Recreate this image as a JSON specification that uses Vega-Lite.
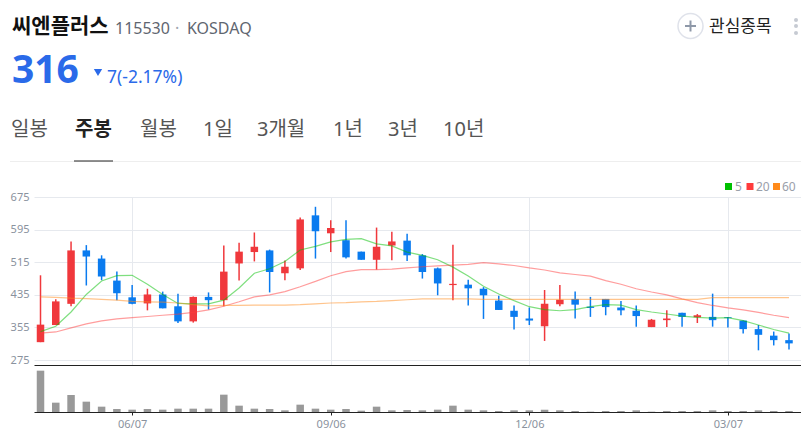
{
  "$schema": "https://vega.github.io/schema/vega-lite/v6.json",
  "padding": 0,
  "background": "white",
  "spacing": 0,
  "bounds": "flush",
  "config": {
    "view": {"stroke": null},
    "font": "Noto Sans, Noto Sans CJK KR",
    "text": {"baseline": "alphabetic", "align": "left"}
  },
  "datasets": {
    "weekly": [
      {"date":"2021-04-26","open":319,"high":483,"low":319,"close":362,"volume":124,"ma5":345,"ma20":341,"ma60":430},
      {"date":"2021-05-03","open":361,"high":424,"low":361,"close":419,"volume":28,"ma5":358,"ma20":344,"ma60":429},
      {"date":"2021-05-10","open":413,"high":566,"low":407,"close":544,"volume":51,"ma5":393,"ma20":354,"ma60":427},
      {"date":"2021-05-17","open":544,"high":557,"low":458,"close":529,"volume":31,"ma5":436,"ma20":364,"ma60":426},
      {"date":"2021-05-24","open":524,"high":532,"low":471,"close":480,"volume":16,"ma5":469,"ma20":371,"ma60":424},
      {"date":"2021-05-31","open":470,"high":492,"low":422,"close":439,"volume":9,"ma5":482,"ma20":376,"ma60":422},
      {"date":"2021-06-07","open":429,"high":459,"low":412,"close":413,"volume":7,"ma5":483,"ma20":379,"ma60":419},
      {"date":"2021-06-14","open":414,"high":450,"low":397,"close":436,"volume":9,"ma5":461,"ma20":382,"ma60":418},
      {"date":"2021-06-21","open":436,"high":443,"low":402,"close":402,"volume":7,"ma5":436,"ma20":385,"ma60":417},
      {"date":"2021-06-28","open":407,"high":438,"low":366,"close":370,"volume":10,"ma5":414,"ma20":388,"ma60":415},
      {"date":"2021-07-05","open":370,"high":431,"low":367,"close":430,"volume":10,"ma5":413,"ma20":392,"ma60":411},
      {"date":"2021-07-12","open":430,"high":441,"low":399,"close":422,"volume":10,"ma5":413,"ma20":398,"ma60":408},
      {"date":"2021-07-19","open":422,"high":556,"low":407,"close":492,"volume":52,"ma5":422,"ma20":407,"ma60":409},
      {"date":"2021-07-26","open":512,"high":563,"low":470,"close":541,"volume":19,"ma5":452,"ma20":418,"ma60":409},
      {"date":"2021-08-02","open":540,"high":588,"low":517,"close":553,"volume":10,"ma5":488,"ma20":430,"ma60":410},
      {"date":"2021-08-09","open":544,"high":546,"low":441,"close":491,"volume":9,"ma5":499,"ma20":435,"ma60":410},
      {"date":"2021-08-16","open":488,"high":519,"low":471,"close":504,"volume":5,"ma5":517,"ma20":443,"ma60":410},
      {"date":"2021-08-23","open":500,"high":625,"low":496,"close":620,"volume":22,"ma5":545,"ma20":455,"ma60":411},
      {"date":"2021-08-30","open":630,"high":651,"low":524,"close":591,"volume":10,"ma5":554,"ma20":468,"ma60":413},
      {"date":"2021-09-06","open":586,"high":618,"low":540,"close":599,"volume":7,"ma5":565,"ma20":482,"ma60":415},
      {"date":"2021-09-13","open":569,"high":618,"low":524,"close":527,"volume":9,"ma5":571,"ma20":492,"ma60":416},
      {"date":"2021-09-20","open":541,"high":541,"low":521,"close":521,"volume":4,"ma5":573,"ma20":497,"ma60":418},
      {"date":"2021-09-27","open":521,"high":600,"low":497,"close":553,"volume":16,"ma5":560,"ma20":497,"ma60":419},
      {"date":"2021-10-04","open":556,"high":590,"low":520,"close":566,"volume":5,"ma5":555,"ma20":498,"ma60":421},
      {"date":"2021-10-11","open":568,"high":585,"low":518,"close":532,"volume":6,"ma5":540,"ma20":501,"ma60":423},
      {"date":"2021-10-18","open":532,"high":535,"low":475,"close":491,"volume":5,"ma5":532,"ma20":504,"ma60":425},
      {"date":"2021-10-25","open":500,"high":502,"low":434,"close":463,"volume":7,"ma5":521,"ma20":506,"ma60":425},
      {"date":"2021-11-01","open":459,"high":558,"low":422,"close":462,"volume":19,"ma5":503,"ma20":508,"ma60":425},
      {"date":"2021-11-08","open":460,"high":472,"low":409,"close":451,"volume":7,"ma5":481,"ma20":510,"ma60":425},
      {"date":"2021-11-15","open":450,"high":454,"low":376,"close":434,"volume":5,"ma5":456,"ma20":514,"ma60":424},
      {"date":"2021-11-22","open":421,"high":433,"low":398,"close":398,"volume":3,"ma5":437,"ma20":511,"ma60":424},
      {"date":"2021-11-29","open":396,"high":409,"low":350,"close":381,"volume":5,"ma5":421,"ma20":507,"ma60":424},
      {"date":"2021-12-06","open":377,"high":404,"low":361,"close":372,"volume":5,"ma5":406,"ma20":501,"ma60":424},
      {"date":"2021-12-13","open":358,"high":447,"low":322,"close":413,"volume":7,"ma5":399,"ma20":496,"ma60":424},
      {"date":"2021-12-20","open":412,"high":459,"low":407,"close":423,"volume":5,"ma5":396,"ma20":489,"ma60":424},
      {"date":"2021-12-27","open":425,"high":443,"low":377,"close":411,"volume":3,"ma5":399,"ma20":485,"ma60":424},
      {"date":"2022-01-03","open":406,"high":430,"low":381,"close":403,"volume":1,"ma5":406,"ma20":481,"ma60":424},
      {"date":"2022-01-10","open":425,"high":425,"low":385,"close":405,"volume":3,"ma5":411,"ma20":470,"ma60":424},
      {"date":"2022-01-17","open":404,"high":420,"low":385,"close":397,"volume":3,"ma5":410,"ma20":461,"ma60":424},
      {"date":"2022-01-24","open":396,"high":409,"low":357,"close":383,"volume":5,"ma5":399,"ma20":450,"ma60":424},
      {"date":"2022-01-31","open":356,"high":376,"low":356,"close":374,"volume":1,"ma5":393,"ma20":442,"ma60":424},
      {"date":"2022-02-07","open":373,"high":397,"low":356,"close":377,"volume":3,"ma5":388,"ma20":435,"ma60":424},
      {"date":"2022-02-14","open":391,"high":391,"low":357,"close":381,"volume":3,"ma5":383,"ma20":425,"ma60":424},
      {"date":"2022-02-21","open":380,"high":388,"low":366,"close":385,"volume":3,"ma5":380,"ma20":416,"ma60":424},
      {"date":"2022-02-28","open":381,"high":438,"low":357,"close":373,"volume":5,"ma5":378,"ma20":409,"ma60":428},
      {"date":"2022-03-07","open":380,"high":381,"low":355,"close":378,"volume":3,"ma5":379,"ma20":403,"ma60":428},
      {"date":"2022-03-14","open":372,"high":372,"low":340,"close":351,"volume":3,"ma5":372,"ma20":398,"ma60":428},
      {"date":"2022-03-21","open":351,"high":361,"low":299,"close":337,"volume":5,"ma5":361,"ma20":392,"ma60":428},
      {"date":"2022-03-28","open":335,"high":345,"low":311,"close":324,"volume":3,"ma5":350,"ma20":385,"ma60":428},
      {"date":"2022-04-04","open":324,"high":340,"low":301,"close":316,"volume":3,"ma5":341,"ma20":379,"ma60":428}
    ]
  },
  "vconcat": [
    {
      "width": 767,
      "height": 197,
      "data": {"values": [{}]},
      "layer": [
        {"mark":{"type":"rule","color":"#ffffff","opacity":0},"encoding":{"x":{"datum":0,"type":"quantitative","scale":{"domain":[34,801],"nice":false,"zero":false},"axis":null},"x2":{"datum":801},"y":{"datum":0,"type":"quantitative","scale":{"domain":[197,0],"nice":false,"zero":false},"axis":null}}},
        {"mark":{"type":"text","text":"씨엔플러스","fontSize":21,"fontWeight":"bold","color":"#111111"},"encoding":{"x":{"datum":12,"type":"quantitative","axis":null},"y":{"datum":33,"type":"quantitative","axis":null}}},
        {"mark":{"type":"text","text":"115530","fontSize":16,"color":"#5f6670"},"encoding":{"x":{"datum":115,"type":"quantitative","axis":null},"y":{"datum":34,"type":"quantitative","axis":null}}},
        {"mark":{"type":"text","text":"·","fontSize":16,"color":"#a0a6b0"},"encoding":{"x":{"datum":175,"type":"quantitative","axis":null},"y":{"datum":34,"type":"quantitative","axis":null}}},
        {"mark":{"type":"text","text":"KOSDAQ","fontSize":16,"color":"#5f6670"},"encoding":{"x":{"datum":187,"type":"quantitative","axis":null},"y":{"datum":34,"type":"quantitative","axis":null}}},
        {"mark":{"type":"text","text":"316","fontSize":39,"fontWeight":"bold","color":"#2a6ae9"},"encoding":{"x":{"datum":12,"type":"quantitative","axis":null},"y":{"datum":83,"type":"quantitative","axis":null}}},
        {"mark":{"type":"point","shape":"triangle-down","filled":true,"opacity":1,"size":70,"color":"#2a6ae9"},"encoding":{"x":{"datum":98,"type":"quantitative","axis":null},"y":{"datum":72.5,"type":"quantitative","axis":null}}},
        {"mark":{"type":"text","text":"7(-2.17%)","fontSize":17.5,"color":"#2a6ae9"},"encoding":{"x":{"datum":107,"type":"quantitative","axis":null},"y":{"datum":83,"type":"quantitative","axis":null}}},
        {"mark":{"type":"text","text":"일봉","fontSize":20,"color":"#555555"},"encoding":{"x":{"datum":11,"type":"quantitative","axis":null},"y":{"datum":135.5,"type":"quantitative","axis":null}}},
        {"mark":{"type":"text","text":"주봉","fontSize":20,"fontWeight":"bold","color":"#222222"},"encoding":{"x":{"datum":75,"type":"quantitative","axis":null},"y":{"datum":135.5,"type":"quantitative","axis":null}}},
        {"mark":{"type":"text","text":"월봉","fontSize":20,"color":"#555555"},"encoding":{"x":{"datum":140,"type":"quantitative","axis":null},"y":{"datum":135.5,"type":"quantitative","axis":null}}},
        {"mark":{"type":"text","text":"1일","fontSize":20,"color":"#555555"},"encoding":{"x":{"datum":203,"type":"quantitative","axis":null},"y":{"datum":135.5,"type":"quantitative","axis":null}}},
        {"mark":{"type":"text","text":"3개월","fontSize":20,"color":"#555555"},"encoding":{"x":{"datum":257,"type":"quantitative","axis":null},"y":{"datum":135.5,"type":"quantitative","axis":null}}},
        {"mark":{"type":"text","text":"1년","fontSize":20,"color":"#555555"},"encoding":{"x":{"datum":333,"type":"quantitative","axis":null},"y":{"datum":135.5,"type":"quantitative","axis":null}}},
        {"mark":{"type":"text","text":"3년","fontSize":20,"color":"#555555"},"encoding":{"x":{"datum":388,"type":"quantitative","axis":null},"y":{"datum":135.5,"type":"quantitative","axis":null}}},
        {"mark":{"type":"text","text":"10년","fontSize":20,"color":"#555555"},"encoding":{"x":{"datum":443,"type":"quantitative","axis":null},"y":{"datum":135.5,"type":"quantitative","axis":null}}},
        {"mark":{"type":"rule","color":"#eeeeee","strokeWidth":1},"encoding":{"x":{"datum":10,"type":"quantitative","axis":null},"x2":{"datum":801},"y":{"datum":161.5,"type":"quantitative","axis":null}}},
        {"mark":{"type":"rule","color":"#222222","strokeWidth":1},"encoding":{"x":{"datum":74,"type":"quantitative","axis":null},"x2":{"datum":113},"y":{"datum":161,"type":"quantitative","axis":null}}},
        {"mark":{"type":"point","shape":"circle","size":625,"color":"#dfe2ea","strokeWidth":1.5,"opacity":1,"filled":false},"encoding":{"x":{"datum":690.5,"type":"quantitative","axis":null},"y":{"datum":26,"type":"quantitative","axis":null}}},
        {"mark":{"type":"rule","color":"#8e98a8","strokeWidth":2},"encoding":{"x":{"datum":685,"type":"quantitative","axis":null},"x2":{"datum":696},"y":{"datum":26,"type":"quantitative","axis":null}}},
        {"mark":{"type":"rule","color":"#8e98a8","strokeWidth":2},"encoding":{"x":{"datum":690.5,"type":"quantitative","axis":null},"y":{"datum":20.5,"type":"quantitative","axis":null},"y2":{"datum":31.5}}},
        {"mark":{"type":"text","text":"관심종목","fontSize":17,"color":"#222222"},"encoding":{"x":{"datum":709,"type":"quantitative","axis":null},"y":{"datum":32,"type":"quantitative","axis":null}}},
        {"mark":{"type":"point","shape":"circle","size":16,"color":"#c6cad2","opacity":1,"filled":true},"encoding":{"x":{"datum":796,"type":"quantitative","axis":null},"y":{"datum":20,"type":"quantitative","axis":null}}},
        {"mark":{"type":"point","shape":"circle","size":16,"color":"#c6cad2","opacity":1,"filled":true},"encoding":{"x":{"datum":796,"type":"quantitative","axis":null},"y":{"datum":26,"type":"quantitative","axis":null}}},
        {"mark":{"type":"point","shape":"circle","size":16,"color":"#c6cad2","opacity":1,"filled":true},"encoding":{"x":{"datum":796,"type":"quantitative","axis":null},"y":{"datum":33,"type":"quantitative","axis":null}}},
        {"mark":{"type":"point","shape":"square","size":49,"color":"#00c000","opacity":1,"filled":true},"encoding":{"x":{"datum":728.5,"type":"quantitative","axis":null},"y":{"datum":186.5,"type":"quantitative","axis":null}}},
        {"mark":{"type":"text","text":"5","fontSize":12,"color":"#9aa0aa"},"encoding":{"x":{"datum":735,"type":"quantitative","axis":null},"y":{"datum":190.5,"type":"quantitative","axis":null}}},
        {"mark":{"type":"point","shape":"square","size":49,"color":"#ff3b3b","opacity":1,"filled":true},"encoding":{"x":{"datum":750,"type":"quantitative","axis":null},"y":{"datum":186.5,"type":"quantitative","axis":null}}},
        {"mark":{"type":"text","text":"20","fontSize":12,"color":"#9aa0aa"},"encoding":{"x":{"datum":756,"type":"quantitative","axis":null},"y":{"datum":190.5,"type":"quantitative","axis":null}}},
        {"mark":{"type":"point","shape":"square","size":49,"color":"#ff8a1a","opacity":1,"filled":true},"encoding":{"x":{"datum":776.5,"type":"quantitative","axis":null},"y":{"datum":186.5,"type":"quantitative","axis":null}}},
        {"mark":{"type":"text","text":"60","fontSize":12,"color":"#9aa0aa"},"encoding":{"x":{"datum":782,"type":"quantitative","axis":null},"y":{"datum":190.5,"type":"quantitative","axis":null}}}
      ]
    },
    {
      "width": 767,
      "height": 168,
      "data": {"name": "weekly"},
      "encoding": {
        "x": {
          "field": "date",
          "type": "temporal",
          "title": null,
          "scale": {"type": "utc", "domain": ["2021-04-23T00:30:00Z", "2022-04-09T12:00:00Z"], "nice": false, "padding": 0},
          "axis": {
            "values": ["2021-06-07", "2021-09-06", "2021-12-06", "2022-03-07"],
            "tickCount": 4,
            "labels": false,
            "ticks": false,
            "domainColor": "#222222",
            "domainWidth": 1,
            "grid": true,
            "gridColor": "#e6e9ee"
          }
        }
      },
      "layer": [
        {
          "mark": {"type": "rule", "strokeWidth": 1.5},
          "encoding": {
            "y": {
              "field": "low",
              "type": "quantitative",
              "title": null,
              "scale": {"domain": [263, 675], "nice": false, "zero": false},
              "axis": {
                "values": [675, 595, 515, 435, 355, 275],
                "tickCount": 6,
                "domain": false,
                "ticks": false,
                "labelColor": "#8a929e",
                "labelFontSize": 11,
                "labelPadding": 5,
                "labelOverlap": false,
                "labelBound": false,
                "grid": true,
                "gridColor": "#e6e9ee"
              }
            },
            "y2": {"field": "high"},
            "color": {"condition": {"test": "datum.close >= datum.open", "value": "#f0383c"}, "value": "#0a7bef"}
          }
        },
        {
          "mark": {"type": "bar", "width": 7.5},
          "encoding": {
            "y": {"field": "open", "type": "quantitative"},
            "y2": {"field": "close"},
            "color": {"condition": {"test": "datum.close >= datum.open", "value": "#f0383c"}, "value": "#0a7bef"}
          }
        },
        {"mark": {"type": "line", "color": "#00c000", "opacity": 0.5, "strokeWidth": 1.2}, "encoding": {"y": {"field": "ma5", "type": "quantitative"}}},
        {"mark": {"type": "line", "color": "#ff3b3b", "opacity": 0.5, "strokeWidth": 1.2}, "encoding": {"y": {"field": "ma20", "type": "quantitative"}}},
        {"mark": {"type": "line", "color": "#ff8a1a", "opacity": 0.5, "strokeWidth": 1.2}, "encoding": {"y": {"field": "ma60", "type": "quantitative"}}}
      ]
    },
    {
      "width": 767,
      "height": 47,
      "data": {"name": "weekly"},
      "mark": {"type": "bar", "width": 7.5, "color": "#999999"},
      "encoding": {
        "x": {
          "field": "date",
          "type": "temporal",
          "title": null,
          "scale": {"type": "utc", "domain": ["2021-04-23T00:30:00Z", "2022-04-09T12:00:00Z"], "nice": false, "padding": 0},
          "axis": {
            "values": ["2021-06-07", "2021-09-06", "2021-12-06", "2022-03-07"],
            "tickCount": 4,
            "format": "%m/%d",
            "grid": false,
            "domainColor": "#222222",
            "domainWidth": 1,
            "tickColor": "#222222",
            "tickSize": 3,
            "labelColor": "#8a929e",
            "labelFontSize": 11,
            "labelPadding": 3
          }
        },
        "y": {
          "field": "volume",
          "type": "quantitative",
          "scale": {"domain": [0, 141], "nice": false},
          "axis": null
        }
      }
    }
  ]
}
